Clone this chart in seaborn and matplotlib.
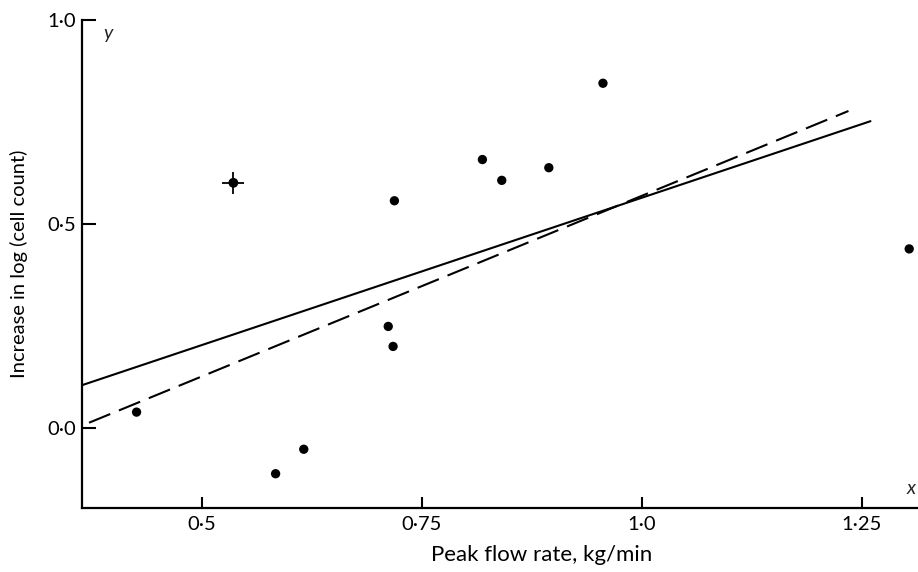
import matplotlib
matplotlib.use("Agg")
import matplotlib.pyplot as plt
import seaborn as sns
import pandas as pd

# ---- data ----
flow = [0.426, 0.584, 0.616, 0.712, 0.7175, 0.719, 0.819, 0.841, 0.8945, 0.956, 1.304]
increase = [0.039, -0.112, -0.052, 0.249, 0.200, 0.557, 0.658, 0.607, 0.638, 0.845, 0.439]
marked_flow = [0.536]
marked_increase = [0.601]

solid_x = [0.364, 1.26]
solid_y = [0.105, 0.752]
dashed_x = [0.372, 1.235]
dashed_y = [0.013, 0.777]

xticks = [0.5, 0.75, 1.0, 1.25]
xtick_labels = ["0·5", "0·75", "1·0", "1·25"]
yticks = [0.0, 0.5, 1.0]
ytick_labels = ["0·0", "0·5", "1·0"]

sns.set_theme(style="ticks")
plt.rcParams["font.family"] = ["Lato", "DejaVu Sans"]

W, H = 918, 572
fig = plt.figure(figsize=(W / 100, H / 100), dpi=100)
ax = fig.add_axes([82 / W, 1 - 508 / H, 1 - 82 / W, (508 - 20) / H])

df = pd.DataFrame({"flow": flow, "inc": increase})
dfm = pd.DataFrame({"flow": marked_flow, "inc": marked_increase})
dfs = pd.DataFrame({"x": solid_x, "y": solid_y})
dfd = pd.DataFrame({"x": dashed_x, "y": dashed_y})

sns.lineplot(data=dfs, x="x", y="y", ax=ax, color="black", lw=1.5)
sns.lineplot(data=dfd, x="x", y="y", ax=ax, color="black", lw=1.5,
             dashes=False)
ax.lines[-1].set_dashes((11, 4.5))

sns.scatterplot(data=df, x="flow", y="inc", ax=ax, color="black",
                s=45, edgecolor="none", zorder=3)
sns.scatterplot(data=dfm, x="flow", y="inc", ax=ax, color="black",
                s=50, edgecolor="none", zorder=3)
sns.scatterplot(data=dfm, x="flow", y="inc", ax=ax, color="black",
                marker="+", s=230, linewidth=1.3, zorder=3)

ax.set_xlim(0.364, 1.314)
ax.set_ylim(-0.196, 1.0)
ax.set_xticks(xticks)
ax.set_xticklabels(xtick_labels)
ax.set_yticks(yticks)
ax.set_yticklabels(ytick_labels)

sns.despine(ax=ax)
for s in ("left", "bottom"):
    ax.spines[s].set_linewidth(1.6)
    ax.spines[s].set_color("black")
ax.tick_params(axis="x", direction="in", length=8, width=1.5, pad=6,
               labelsize=14.5, colors="black")
ax.tick_params(axis="y", direction="in", length=10, width=1.5, pad=4,
               labelsize=14.5, colors="black")

ax.set_xlabel("Peak flow rate, kg/min", fontsize=16, labelpad=8, color="black")
ax.xaxis.set_label_coords(0.55, -0.075)
ax.xaxis.label.set_va("top")
ax.set_ylabel("Increase in log (cell count)", fontsize=14.5, labelpad=14, color="black")

ax.text(0.394, 0.968, "y", style="italic", fontsize=14, ha="center", va="center")
ax.text(1.306, -0.147, "x", style="italic", fontsize=14, ha="center", va="center")

fig.savefig("out.png", dpi=100, facecolor="white")
